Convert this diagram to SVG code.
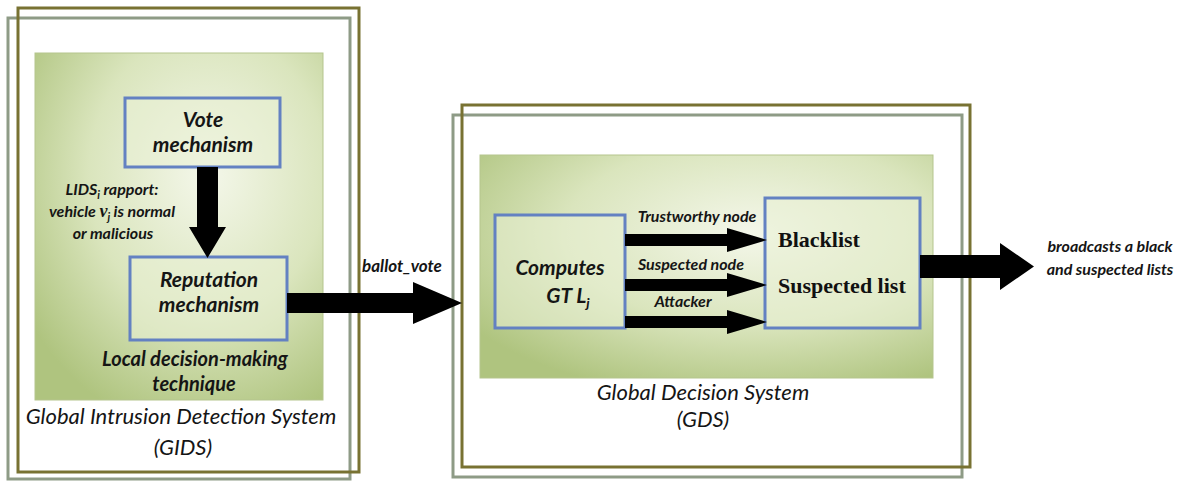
<svg xmlns="http://www.w3.org/2000/svg" width="1195" height="483" viewBox="0 0 1195 483">
<defs>
<radialGradient id="panel" cx="0.6" cy="0.35" r="0.75">
<stop offset="0" stop-color="#f4f7ea"/>
<stop offset="0.55" stop-color="#dae5bd"/>
<stop offset="1" stop-color="#afc47f"/>
</radialGradient>
<style>
.olive{fill:none;stroke:#787232;stroke-width:3}
.gray{fill:none;stroke:#8e9b86;stroke-width:3}
.panel{fill:url(#panel);stroke:#b5c58e;stroke-width:1}
.box{fill:#e9f0d6;fill-opacity:0.55;stroke:#6381c2;stroke-width:3}
.t{font-family:Lato,"Liberation Sans",sans-serif;font-style:italic;fill:#151515;text-anchor:middle}
.b{font-weight:700}
.serif{font-family:"Liberation Serif","DejaVu Serif",serif;font-weight:700;fill:#111;font-size:22px}
.arr{fill:#000}
</style>
</defs>
<rect width="1195" height="483" fill="#fff"/>

<g id="gids">
<rect class="gray" x="8" y="18" width="342" height="461"/>
<rect class="olive" x="18" y="8" width="341" height="464"/>
<rect class="panel" x="35" y="53" width="288" height="347"/>
<text class="t" x="181" y="424" font-size="22">Global Intrusion Detection System</text>
<text class="t" x="183" y="455" font-size="22">(GIDS)</text>
<text class="t b" x="195" y="366" font-size="20">Local decision-making</text>
<text class="t b" x="194" y="391" font-size="20">technique</text>
</g>

<g id="vote">
<rect class="box" x="125" y="98" width="155" height="69"/>
<text class="t b" x="203" y="127" font-size="21">Vote</text>
<text class="t b" x="203" y="152" font-size="21">mechanism</text>
</g>

<g id="reputation">
<rect class="box" x="130" y="257" width="157" height="83"/>
<text class="t b" x="209" y="287" font-size="21">Reputation</text>
<text class="t b" x="209" y="312" font-size="21">mechanism</text>
</g>

<g id="gds">
<rect class="gray" x="453" y="115" width="509" height="362"/>
<rect class="olive" x="462" y="105" width="508" height="362"/>
<rect class="panel" x="480" y="155" width="453" height="223"/>
<text class="t" x="703" y="400" font-size="22">Global Decision System</text>
<text class="t" x="703" y="427" font-size="22">(GDS)</text>
</g>

<g id="computes">
<rect class="box" x="495" y="215" width="130" height="113"/>
<text class="t b" x="560" y="275" font-size="21">Computes</text>
<text class="t b" x="568" y="303" font-size="21">GT L<tspan font-size="14" dy="5">j</tspan></text>
</g>

<g id="lists">
<rect class="box" x="765" y="198" width="155" height="130"/>
<text class="serif" x="778" y="247">Blacklist</text>
<text class="serif" x="778" y="293">Suspected list</text>
</g>

<g id="connectors">
<polygon class="arr" points="197,167 218,167 218,227 226,227 207.5,258 189,227 197,227"/>
<text class="t b" x="112" y="195" font-size="16">LIDS<tspan font-size="11" dy="4">i</tspan><tspan dy="-4"> rapport:</tspan></text>
<text class="t b" x="112" y="217" font-size="16">vehicle <tspan font-family="Liberation Serif,serif" font-size="18">v</tspan><tspan font-size="11" dy="4">j</tspan><tspan dy="-4"> is normal</tspan></text>
<text class="t b" x="113" y="239" font-size="16">or malicious</text>

<polygon class="arr" points="287,293 413,293 413,282 462,303 413,324 413,313 287,313"/>
<text class="t b" x="402" y="272" font-size="17">ballot_vote</text>

<polygon class="arr" points="625,234 727,234 727,228 767,240 727,252 727,246 625,246"/>
<polygon class="arr" points="625,279 727,279 727,273 767,285 727,297 727,291 625,291"/>
<polygon class="arr" points="625,316 727,316 727,310 767,322 727,334 727,328 625,328"/>
<text class="t b" x="697" y="222" font-size="16">Trustworthy node</text>
<text class="t b" x="691" y="270" font-size="16">Suspected node</text>
<text class="t b" x="683" y="307" font-size="16">Attacker</text>

<polygon class="arr" points="920,255 1000,255 1000,243 1034,266.5 1000,290 1000,278 920,278"/>
<text class="t b" x="1110" y="252" font-size="16">broadcasts a black</text>
<text class="t b" x="1110" y="275" font-size="16">and suspected lists</text>
</g>
</svg>
